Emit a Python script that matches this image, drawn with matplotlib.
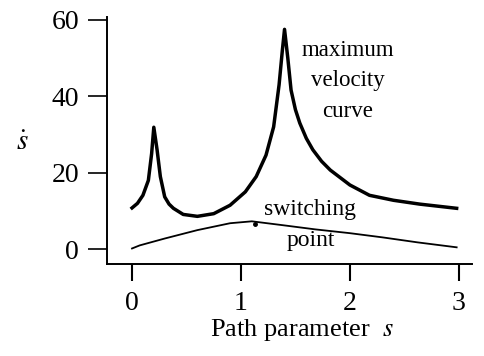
import matplotlib
matplotlib.use("Agg")
import matplotlib.pyplot as plt

plt.rcParams['font.family'] = ['Liberation Serif', 'DejaVu Serif']
plt.rcParams['mathtext.fontset'] = 'stix'

# maximum velocity curve
s_max = [0.0, 0.05, 0.1, 0.15, 0.18, 0.2, 0.23, 0.26, 0.3, 0.34, 0.38, 0.47, 0.6, 0.75, 0.9,
         1.04, 1.14, 1.23, 1.3, 1.35, 1.38, 1.4, 1.43, 1.46, 1.5, 1.54, 1.6, 1.66, 1.74, 1.82,
         2.0, 2.18, 2.4, 2.64, 2.98]
v_max = [10.8, 12.0, 14.1, 18.0, 25.0, 31.9, 26.0, 19.0, 13.7, 11.8, 10.7, 9.1, 8.6, 9.3, 11.5,
         15.0, 19.0, 24.6, 32.0, 43.0, 52.0, 57.5, 50.0, 41.6, 36.5, 33.0, 29.0, 26.0, 23.0, 20.7,
         16.8, 14.1, 12.8, 11.8, 10.7]

# switching curve below it
s_sw = [0.0, 0.07, 0.3, 0.6, 0.9, 1.1, 1.38, 1.68, 2.0, 2.3, 2.62, 2.98]
v_sw = [0.2, 1.0, 2.8, 5.0, 6.8, 7.3, 6.3, 5.2, 4.2, 3.1, 1.8, 0.5]

switch_s, switch_v = 1.13, 6.5

x_ticks = [0, 1, 2, 3]
y_ticks = [0, 20, 40, 60]

fig = plt.figure(figsize=(4.84, 3.56), dpi=100)
ax = fig.add_axes([0.221, 0.258, 0.754, 0.694])

ax.plot(s_max, v_max, color='black', linewidth=2.5, solid_joinstyle='round')
ax.plot(s_sw, v_sw, color='black', linewidth=1.3)
ax.plot(switch_s, switch_v, 'o', color='black', markersize=2.5)

ax.set_xlim(-0.23, 3.12)
ax.set_ylim(-3.9, 60.7)
ax.set_xticks(x_ticks)
ax.set_yticks(y_ticks)
ax.tick_params(axis='y', direction='out', length=14, width=1.2, pad=6, labelsize=20)
ax.tick_params(axis='x', direction='out', length=12, width=1.5, pad=7, labelsize=20)

for side in ['top', 'right']:
    ax.spines[side].set_visible(False)
for side in ['left', 'bottom']:
    ax.spines[side].set_linewidth(1.4)

ax.text(1.98, 52, 'maximum', ha='center', va='center', fontsize=16.5)
ax.text(1.98, 44.2, 'velocity', ha='center', va='center', fontsize=16.5)
ax.text(1.98, 36, 'curve', ha='center', va='center', fontsize=16.5)
ax.text(1.63, 10.5, 'switching', ha='center', va='center', fontsize=17)
ax.text(1.64, 2.4, 'point', ha='center', va='center', fontsize=17)

fig.text(22 / 484, 1 - 143 / 356, r'$\dot{s}$', ha='center', va='center', fontsize=21)
fig.text(302 / 484, 1 - 330 / 356, r'Path parameter  $s$', ha='center', va='center', fontsize=19)

fig.savefig('out.png', dpi=100)
